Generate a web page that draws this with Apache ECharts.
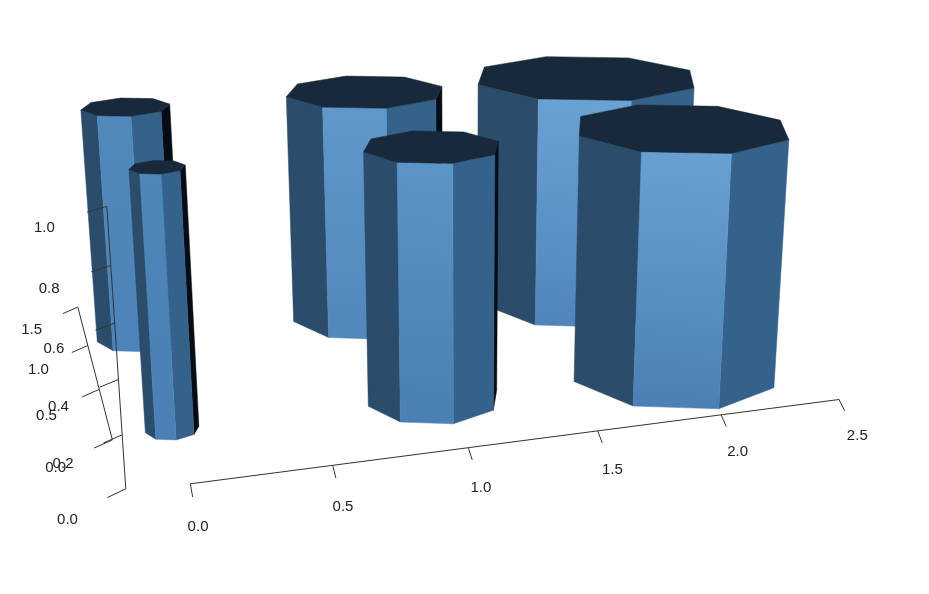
<!DOCTYPE html>
<html><head><meta charset="utf-8"><style>html,body{margin:0;background:#fff}#c{width:929px;height:594px}</style>
<script src="https://cdn.jsdelivr.net/npm/echarts@6/dist/echarts.min.js"></script></head><body><div id="c"></div>
<script>
// data: back row first, then front row
const barX=[0,1,2,0,1,2];
const barY=[1,1,1,0,0,0];
const barRadius=[0.178,0.339,0.500,0.098,0.258,0.422];
const barHeight=[1,1,1,1,1,1];
const xTicks=[0,0.5,1,1.5,2,2.5];
const yTicks=[0,0.5,1,1.5];
const zTicks=[0,0.2,0.4,0.6,0.8,1];
const xTickLabels=['0.0','0.5','1.0','1.5','2.0','2.5'];
const yTickLabels=['0.0','0.5','1.0','1.5'];
const zTickLabels=['0.0','0.2','0.4','0.6','0.8','1.0'];
// camera and box
const CAM=[281.215,-11.0315,-22.718,172.258,-12.8054,-41.0583,-270.485,429.493,0.0466804,0.151659,-0.0489525];
const BOX={x:-0.21768,y:-0.447634,z:-0.0125875};
const TICK={xy:0.0462543,xz:0.0279931,yx:0.0671639,yz:0.0235683,zx:0.0665457,zy:0.0489968};
const LABEL_K={x:3.2,y:3.08,z:3.08}, LABEL_DY={x:0,y:3,z:3}, TILT=-0.384685, SY=0.993616;
// per-bar front-face shade (top, bottom)
const frontTop=['#5189bc','#5f98ca','#6aa2d4','#4f87ba','#5b94c7','#69a0d2'];
const frontBottom=['#4d83b8','#5287bc','#4f85bc','#4a80b5','#4a7fb4','#4c80b5'];
const FACE={left:'#2b4c6b',right:'#35628a',back:'#050c14',top:'#17293a'};
const proj=(X,Y,Z)=>{const w=CAM[8]*X+CAM[9]*Y+CAM[10]*Z+1;return[(CAM[0]*X+CAM[1]*Y+CAM[2]*Z+CAM[3])/w,(CAM[4]*X+CAM[5]*Y+CAM[6]*Z+CAM[7])/w];};
const area=p=>{let s=0;p.forEach((a,i)=>{const b=p[(i+1)%p.length];s+=a[0]*b[1]-b[0]*a[1];});return s;};
function renderBar(params,api){
  const i=api.value(0),x=barX[i],y=barY[i],r=barRadius[i],h=barHeight[i];
  const v=(k,z)=>{const a=(247.5+45*k)*Math.PI/180+TILT;return api.coord(proj(x+r*Math.cos(a),y+r*SY*Math.sin(a),z));};
  const kids=[];
  const fills={0:new echarts.graphic.LinearGradient(0.6,0,0.4,1,[{offset:0,color:frontTop[i]},{offset:1,color:frontBottom[i]}]),1:FACE.right,2:FACE.back,7:FACE.left,3:FACE.back,6:FACE.left};
  for(const k of [3,6,2,7,1,0]){
    const p=[v(k,0),v(k+1,0),v(k+1,h),v(k,h)];
    if(area(p)>0) continue;
    kids.push({type:'polygon',shape:{points:p},style:{fill:fills[k],stroke:fills[k],lineWidth:0.5}});
  }
  const t=[];for(let k=0;k<8;k++)t.push(v(k,h));
  kids.push({type:'polygon',shape:{points:t},style:{fill:FACE.top,stroke:FACE.top,lineWidth:0.5}});
  return {type:'group',children:kids};
}
const LINE={stroke:'#333',lineWidth:1};
const LABEL_FONT='15px "Liberation Sans"';
function tickGroup(api,base,off,k,dy,text,next){
  const a=api.coord(proj(...base));
  const e=api.coord(proj(base[0]-off[0],base[1]-off[1],base[2]-off[2]));
  const l=api.coord(proj(base[0]-off[0]*k,base[1]-off[1]*k,base[2]-off[2]*k));
  const kids=[{type:'line',shape:{x1:a[0],y1:a[1],x2:e[0],y2:e[1]},style:LINE},
    {type:'text',style:{text:text,x:l[0],y:l[1]+dy,align:'center',verticalAlign:'middle',font:LABEL_FONT,fill:'#222'}}];
  if(next){const b=api.coord(proj(...next));kids.push({type:'line',shape:{x1:a[0],y1:a[1],x2:b[0],y2:b[1]},style:LINE});}
  return {type:'group',children:kids};
}
const base={type:'custom',coordinateSystem:'cartesian2d',silent:true,animation:false,clip:false};
const idx=a=>a.map((_,i)=>[i]);
const option={
  animation:false,backgroundColor:'#fff',
  grid:{left:0,right:0,top:0,bottom:0},
  xAxis:{type:'value',min:0,max:929,show:false},
  yAxis:{type:'value',min:0,max:594,inverse:true,show:false},
  series:[
    {...base,name:'bars',data:idx(barX),renderItem:renderBar,encode:{x:0,y:0}},
    {...base,name:'x axis',data:idx(xTicks),encode:{x:0,y:0},renderItem:(p,api)=>{const i=api.value(0);
      return tickGroup(api,[xTicks[i],BOX.y,BOX.z],[0,TICK.xy,TICK.xz],LABEL_K.x,LABEL_DY.x,xTickLabels[i],i<xTicks.length-1?[xTicks[i+1],BOX.y,BOX.z]:null);}},
    {...base,name:'y axis',data:idx(yTicks),encode:{x:0,y:0},renderItem:(p,api)=>{const i=api.value(0);
      return tickGroup(api,[BOX.x,yTicks[i],BOX.z],[TICK.yx,0,TICK.yz],LABEL_K.y,LABEL_DY.y,yTickLabels[i],i<yTicks.length-1?[BOX.x,yTicks[i+1],BOX.z]:null);}},
    {...base,name:'z axis',data:idx(zTicks),encode:{x:0,y:0},renderItem:(p,api)=>{const i=api.value(0);
      return tickGroup(api,[BOX.x,BOX.y,zTicks[i]],[TICK.zx,TICK.zy,0],LABEL_K.z,LABEL_DY.z,zTickLabels[i],i<zTicks.length-1?[BOX.x,BOX.y,zTicks[i+1]]:null);}}
  ]
};
echarts.init(document.getElementById('c'),null,{renderer:'canvas'}).setOption(option);
</script></body></html>
